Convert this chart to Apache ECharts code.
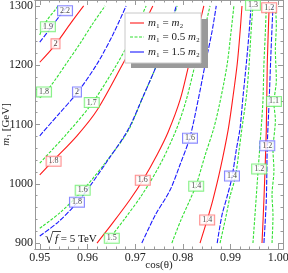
<!DOCTYPE html>
<html><head><meta charset="utf-8">
<script src="https://cdn.jsdelivr.net/npm/echarts@6/dist/echarts.min.js"></script>
<style>html,body{margin:0;padding:0;background:#fff}#c{width:288px;height:273px}</style>
</head><body><div id="c"></div><script>
const cosTicks = [0.95, 0.96, 0.97, 0.98, 0.99, 1.00];
const massTicks = [900, 1000, 1100, 1200, 1300];

// m1 = m2 (red)
const red20 = [[0.95,1205],[0.9532,1234],[0.9565,1271],[0.9592,1300]];
const red18 = [[0.95,1015],[0.9527,1038],[0.9578,1081],[0.9620,1124],[0.9674,1202],[0.9710,1256],[0.9737,1300]];
const red16 = [[0.9620,900],[0.9653,934],[0.9689,973],[0.9716,1006],[0.9746,1049],[0.9769,1087],[0.9794,1141],[0.9813,1202],[0.9832,1260],[0.9844,1300]];
const red14 = [[0.9836,900],[0.9851,939],[0.9863,973],[0.9878,1023],[0.9895,1091],[0.9905,1146],[0.9914,1202],[0.9920,1256],[0.9924,1300]];
const red12 = [[0.9966,900],[0.9970,973],[0.9975,1091],[0.9977,1202],[0.9981,1300]];
// m1 = 0.5 m2 (green)
const grn19 = [[0.95,1251],[0.9506,1263],[0.9517,1278],[0.9532,1293],[0.9538,1300]];
const grn18 = [[0.95,1145],[0.9511,1153],[0.9532,1175],[0.9555,1202],[0.9584,1236],[0.9611,1270],[0.9637,1300]];
const grn17 = [[0.95,1035],[0.9553,1081],[0.9609,1135],[0.9662,1202],[0.9695,1251],[0.9723,1300]];
const grn16 = [[0.95,925],[0.9542,951],[0.9590,989],[0.9637,1035],[0.9685,1089],[0.9716,1146],[0.9746,1202],[0.9769,1253],[0.9788,1300]];
const grn15 = [[0.9639,900],[0.9679,942],[0.9714,981],[0.9752,1032],[0.9786,1091],[0.9807,1141],[0.9826,1202],[0.9844,1256],[0.9857,1300]];
const grn14 = [[0.9777,900],[0.9796,939],[0.9815,973],[0.9828,998],[0.9847,1049],[0.9865,1094],[0.9880,1146],[0.9893,1202],[0.9901,1256],[0.9907,1300]];
const grn13 = [[0.9878,900],[0.9891,947],[0.9899,979],[0.9910,1011],[0.9918,1057],[0.9924,1094],[0.9933,1146],[0.9939,1202],[0.9943,1256],[0.9947,1300]];
const grn12 = [[0.9947,900],[0.9952,956],[0.9958,1025],[0.9964,1091],[0.9968,1141],[0.9970,1202],[0.9973,1256],[0.9975,1300]];
const grn11 = [[0.9987,900],[0.9989,947],[0.9987,981],[0.9991,1023],[0.9989,1057],[0.9994,1108],[0.9991,1136],[0.9996,1175],[0.9994,1226],[0.9996,1268],[0.9994,1300]];
// m1 = 1.5 m2 (blue)
const blu22 = [[0.95,1239],[0.9525,1265],[0.9548,1290],[0.9559,1300]];
const blu20 = [[0.95,1081],[0.9538,1116],[0.9578,1153],[0.9620,1202],[0.9653,1251],[0.9681,1300]];
const blu18 = [[0.95,912],[0.9538,935],[0.9578,968],[0.9605,996],[0.9643,1040],[0.9685,1091],[0.9716,1146],[0.9746,1202],[0.9769,1253],[0.9786,1300]];
const blu16 = [[0.9714,900],[0.9742,947],[0.9773,989],[0.9794,1032],[0.9815,1079],[0.9832,1141],[0.9847,1202],[0.9861,1256],[0.9870,1300]];
const blu14 = [[0.9872,900],[0.9882,947],[0.9893,979],[0.9903,1011],[0.9912,1057],[0.9920,1094],[0.9926,1146],[0.9933,1202],[0.9939,1256],[0.9943,1300]];
const blu12 = [[0.9970,900],[0.9975,973],[0.9977,1064],[0.9981,1141],[0.9985,1226],[0.9989,1300]];

// contour labels [cos, m1, text]
const redLabels = [[0.9533,1236,'2'],[0.9529,1038,'1.8'],[0.9716,1006,'1.6'],[0.9851,939,'1.4'],[0.9981,1297,'1.2']];
const grnLabels = [[0.9517,1265,'1.9'],[0.9509,1155,'1.8'],[0.9609,1137,'1.7'],[0.9590,989,'1.6'],[0.9651,908,'1.5'],[0.9828,996,'1.4'],[0.9947,1301,'1.3'],[0.9960,1025,'1.2'],[0.9991,1139,'1.1']];
const bluLabels = [[0.9553,1292,'2.2'],[0.9578,1155,'2'],[0.9578,969,'1.8'],[0.9815,1077,'1.6'],[0.9903,1013,'1.4'],[0.9977,1064,'1.2']];

const RED = '#ff1a1a', GRN = '#33e033', BLU = '#1a1aff';
const FONT = 'Liberation Serif';
const XMIN = 0.949, XMAX = 1.001, YMIN = 890, YMAX = 1310;

function minorOf(t){const r=[];for(let i=0;i+1<t.length;i++){for(let k=1;k<5;k++)r.push(+(t[i]+(t[i+1]-t[i])*k/5).toFixed(6));}return r;}
const cosMinor = minorOf(cosTicks), massMinor = minorOf(massTicks);

function ax(kind,pos,vals,len,labels){
  const o={type:'value',position:pos,min:kind==='x'?XMIN:YMIN,max:kind==='x'?XMAX:YMAX,
    axisLine:{show:true,onZero:false,lineStyle:{color:'#999',width:1}},
    axisTick:{show:true,inside:true,length:len,customValues:vals,lineStyle:{color:'#999',width:1}},
    axisLabel:{show:false},splitLine:{show:false}};
  if(labels){
    o.axisLabel={show:true,customValues:vals,color:'#222',fontFamily:FONT,fontSize:12,margin:kind==='x'?3:2,
      formatter:kind==='x'?(v=>v.toFixed(2)):(v=>String(Math.round(v)))};
  }
  return o;
}
const xAxes=[ax('x','bottom',cosTicks,5,true),ax('x','bottom',cosMinor,2.5),ax('x','top',cosTicks,5),ax('x','top',cosMinor,2.5)];
const yAxes=[ax('y','left',massTicks,5,true),ax('y','left',massMinor,2.5),ax('y','right',massTicks,5),ax('y','right',massMinor,2.5)];
xAxes[0].name='cos(θ)';xAxes[0].nameLocation='middle';xAxes[0].nameGap=11;xAxes[0].nameMoveOverlap=false;
xAxes[0].nameTextStyle={fontFamily:FONT,fontSize:11,color:'#222'};
yAxes[0].name='{i|m}₁ [GeV]';yAxes[0].nameLocation='middle';yAxes[0].nameGap=23;yAxes[0].nameRotate=90;yAxes[0].nameMoveOverlap=false;
yAxes[0].nameTextStyle={fontFamily:FONT,fontSize:11,color:'#222',rich:{i:{fontFamily:FONT,fontSize:11,fontStyle:'italic',color:'#222'}}};

const curves=[
 [red20,RED,'solid'],[red18,RED,'solid'],[red16,RED,'solid'],[red14,RED,'solid'],[red12,RED,'solid'],
 [grn19,GRN,[3,1.5]],[grn18,GRN,[3,1.5]],[grn17,GRN,[3,1.5]],[grn16,GRN,[3,1.5]],[grn15,GRN,[3,1.5]],[grn14,GRN,[3,1.5]],[grn13,GRN,[3,1.5]],[grn12,GRN,[3,1.5]],[grn11,GRN,[3,1.5]],
 [blu22,BLU,[5,1.5]],[blu20,BLU,[5,1.5]],[blu18,BLU,[5,1.5]],[blu16,BLU,[5,1.5]],[blu14,BLU,[5,1.5]],[blu12,BLU,[5,1.5]]
];
const series=curves.map(([d,c,t])=>({type:'line',data:d,showSymbol:false,smooth:0.3,silent:true,z:2,
  lineStyle:{color:c,width:1.1,type:t}}));
function labelSeries(arr,border){
  return {type:'scatter',z:10,silent:true,symbolSize:1,itemStyle:{color:'rgba(0,0,0,0)'},
    data:arr.map(a=>({value:[a[0],a[1]],name:a[2]})),
    label:{show:true,position:'inside',formatter:p=>p.name,fontFamily:FONT,fontSize:8,color:'#222',
      backgroundColor:'#fff',borderColor:border,borderWidth:1,padding:[1,2,0,2]}};
}
series.push(labelSeries(redLabels,'#ff7070'),labelSeries(grnLabels,'#66ee66'),labelSeries(bluLabels,'#6a6aff'));

const legendRows=[['{i|m}₁ = {i|m}₂',RED,'solid',23],['{i|m}₁ = 0.5 {i|m}₂',GRN,[3,1.5],37],['{i|m}₁ = 1.5 {i|m}₂',BLU,'solid',52]];
const graphic=[
 {type:'rect',shape:{x:131,y:19,width:77,height:49},style:{fill:'#9a9a9a'},z:20},
 {type:'rect',shape:{x:125,y:13,width:76,height:50},style:{fill:'#fff',stroke:'#c8c8c8',lineWidth:1},z:21}
];
legendRows.forEach(r=>{
  graphic.push({type:'line',shape:{x1:130,y1:r[3],x2:144,y2:r[3]},style:{stroke:r[1],lineWidth:1.1,lineDash:r[2]==='solid'?null:r[2]},z:22});
  graphic.push({type:'text',x:148,y:r[3],z:22,style:{text:r[0],fontFamily:FONT,fontSize:11,fill:'#222',verticalAlign:'middle',
    rich:{i:{fontFamily:FONT,fontSize:11,fontStyle:'italic',fill:'#222'}}}});
});
graphic.push({type:'text',x:45,y:239,z:22,style:{text:'√',fontFamily:FONT,fontSize:15,fill:'#111',verticalAlign:'middle'}});
graphic.push({type:'line',shape:{x1:53,y1:231.5,x2:61,y2:231.5},style:{stroke:'#111',lineWidth:0.8},z:22});
graphic.push({type:'text',x:55,y:239,z:22,style:{text:'{i|f} = 5 TeV',fontFamily:FONT,fontSize:11,fill:'#111',verticalAlign:'middle',
  rich:{i:{fontFamily:FONT,fontSize:11,fontStyle:'italic',fill:'#111'}}}});

const chart=echarts.init(document.getElementById('c'),null,{renderer:'canvas'});
chart.setOption({animation:false,backgroundColor:'#fff',
  grid:{left:35,right:5,top:0,bottom:24,containLabel:false,outerBoundsMode:'none'},
  xAxis:xAxes,yAxis:yAxes,series:series,graphic:graphic});
</script></body></html>
